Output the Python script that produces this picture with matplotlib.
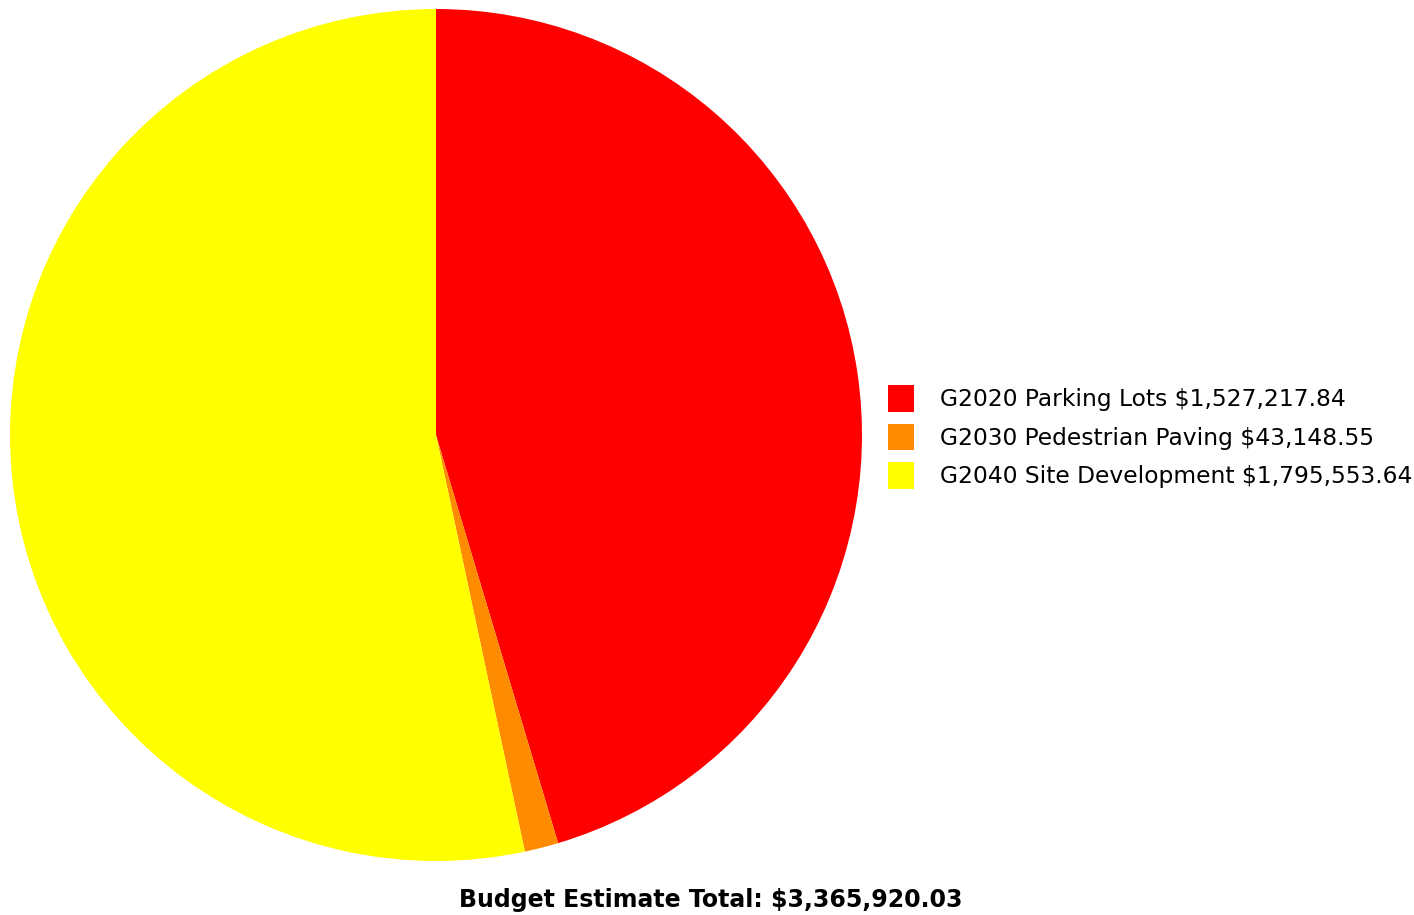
import matplotlib.pyplot as plt
from matplotlib.patches import Patch

codes = ["G2020", "G2030", "G2040"]
names = ["Parking Lots", "Pedestrian Paving", "Site Development"]
amounts = [1527217.84, 43148.55, 1795553.64]
colors = ["#ff0000", "#ff8c00", "#ffff00"]

plt.rcParams['font.family'] = ['DejaVu Sans']

fig = plt.figure(figsize=(14.14, 9.15), dpi=100)
ax = fig.add_axes([10 / 1414, 54 / 915, 852 / 1414, 852 / 915])
ax.pie(amounts, colors=colors, startangle=90, counterclock=False,
       wedgeprops=dict(linewidth=0))
ax.set_xlim(-1, 1)
ax.set_ylim(-1, 1)
ax.set_aspect('equal')

labels = [f"{c} {n} ${a:,.2f}" for c, n, a in zip(codes, names, amounts)]
handles = [Patch(facecolor=col, edgecolor='none') for col in colors]
fig.legend(handles, labels, loc='center left', bbox_to_anchor=(888 / 1414, (915 - 437) / 915),
           frameon=False, fontsize=16.8, handlelength=1.1, handleheight=1.4,
           handletextpad=1.15, labelspacing=0.5, borderaxespad=0, borderpad=0)

total = sum(amounts)
fig.text(711 / 1414, 15 / 915, f"Budget Estimate Total: ${total:,.2f}",
         ha='center', va='center', fontsize=17, fontweight='bold')

fig.savefig("out.png", dpi=100)
